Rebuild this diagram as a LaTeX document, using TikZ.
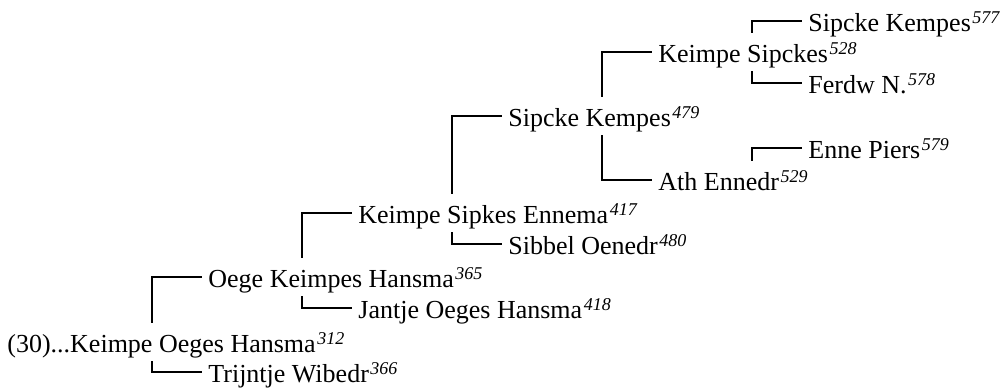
\documentclass[tikz,border=0pt]{standalone}
\usepackage{fontspec}
\setmainfont{Liberation Serif}
\usetikzlibrary{calc}
\tikzset{
  person/.style={anchor=base west, inner xsep=3pt, inner ysep=0pt,
    text height=15pt, text depth=4pt, font=\fontsize{13}{15}\selectfont},
  link/.style={black, line width=0.6pt},
}
\newcommand{\gnr}[1]{\kern0.8pt\raisebox{0.75ex}{\fontsize{9}{9}\selectfont\itshape #1}}

\begin{document}
\begin{tikzpicture}[x=0.5pt, y=-0.5pt]
  \useasboundingbox (0,0) rectangle (1006,389);
  % columns of the vertical links, one per generation
  \foreach \g in {0,...,4} \coordinate (c\g) at ({152+150*\g},0);
  % generation 0 and 1
  \node[person] (p312) at (1,353) {(30)...Keimpe Oeges Hansma\gnr{312}};
  \node[person] (p365) at (202,288) {Oege Keimpes Hansma\gnr{365}};
  \node[person] (p366) at (202,383) {Trijntje Wibedr\gnr{366}};
  % generation 2
  \node[person] (p417) at (352,224) {Keimpe Sipkes Ennema\gnr{417}};
  \node[person] (p418) at (352,319) {Jantje Oeges Hansma\gnr{418}};
  % generation 3
  \node[person] (p479) at (502,127) {Sipcke Kempes\gnr{479}};
  \node[person] (p480) at (502,255) {Sibbel Oenedr\gnr{480}};
  % generation 4
  \node[person] (p528) at (652,63) {Keimpe Sipckes\gnr{528}};
  \node[person] (p529) at (652,191) {Ath Ennedr\gnr{529}};
  % generation 5
  \node[person] (p577) at (802,32) {Sipcke Kempes\gnr{577}};
  \node[person] (p578) at (802,94) {Ferdw N.\gnr{578}};
  \node[person] (p579) at (802,159) {Enne Piers\gnr{579}};
  % father up, mother down
  \draw[link] (p312.north -| c0) |- (p365.west);
  \draw[link] (p312.south -| c0) |- (p366.west);
  \draw[link] (p365.north -| c1) |- (p417.west);
  \draw[link] (p365.south -| c1) |- (p418.west);
  \draw[link] (p417.north -| c2) |- (p479.west);
  \draw[link] (p417.south -| c2) |- (p480.west);
  \draw[link] (p479.north -| c3) |- (p528.west);
  \draw[link] (p479.south -| c3) |- (p529.west);
  \draw[link] (p528.north -| c4) |- (p577.west);
  \draw[link] (p528.south -| c4) |- (p578.west);
  \draw[link] (p529.north -| c4) |- (p579.west);
\end{tikzpicture}
\end{document}
